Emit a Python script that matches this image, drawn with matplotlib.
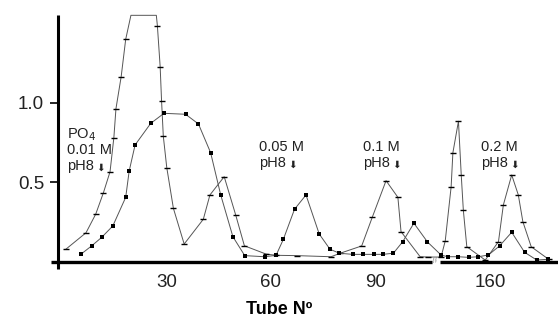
import numpy as np
import matplotlib
matplotlib.use("Agg")
import matplotlib.pyplot as plt
from matplotlib import font_manager

fams = [f.name for f in font_manager.fontManager.ttflist]
main_font = 'Liberation Sans Narrow' if 'Liberation Sans Narrow' in fams else 'Liberation Sans'
plt.rcParams['font.family'] = [main_font, 'DejaVu Sans']

# ---- data (tube number, absorbance) ----
tubes_a = [1.2, 6.9, 9.7, 11.9, 13.8, 14.9, 15.5, 17.0, 18.3, 19.8, 27.1, 27.4, 28.2, 28.6,
           29.1, 30.1, 32.0, 35.1, 40.6, 42.5, 46.6, 49.9, 52.4, 58.6, 61.5, 67.4, 77.3,
           79.9, 86.1, 89.2, 93.1, 96.5, 97.4, 102.9, 105.2,
           145.9, 147.1, 148.8, 149.3, 150.9, 151.7, 152.3, 153.3, 158.6, 162.4, 163.8,
           166.2, 168.1, 169.4, 171.8, 176.8]
values_a = [0.079, 0.181, 0.299, 0.433, 0.565, 0.780, 0.962, 1.164, 1.399, 1.55, 1.55, 1.485,
            1.227, 1.013, 0.790, 0.591, 0.335, 0.110, 0.266, 0.419, 0.534, 0.293, 0.099,
            0.047, 0.039, 0.037, 0.030, 0.052, 0.098, 0.282, 0.509, 0.404, 0.188, 0.030, 0.028,
            0.028, 0.129, 0.471, 0.685, 0.883, 0.545, 0.324, 0.093, 0.009, 0.125, 0.356,
            0.545, 0.419, 0.251, 0.093, 0.014]
offscale_a = [9, 10]  # plateau points (off scale, no marker)

tubes_b = [5.5, 8.5, 11.4, 14.6, 18.3, 19.3, 21.0, 25.5, 29.3, 35.5, 39.2, 42.7, 45.6, 49.1,
           52.5, 58.3, 61.5, 63.6, 66.8, 70.1, 73.9, 77.0, 79.7, 83.5, 86.4, 89.5, 92.2,
           95.2, 97.9, 101.1, 105.0,
           145.9, 147.8, 150.9, 153.8, 156.6, 159.5, 162.7, 166.2, 169.9, 173.4, 176.6]
values_b = [0.047, 0.098, 0.152, 0.224, 0.404, 0.570, 0.734, 0.870, 0.933, 0.927, 0.866,
            0.685, 0.419, 0.156, 0.037, 0.030, 0.039, 0.140, 0.329, 0.419, 0.173, 0.077,
            0.052, 0.045, 0.045, 0.045, 0.045, 0.052, 0.125, 0.241, 0.123,
            0.041, 0.030, 0.030, 0.026, 0.030, 0.041, 0.098, 0.184, 0.058, 0.009, 0.014]

x_ticks = [30, 60, 90, 160]
y_ticks = [0.5, 1.0]
y_tick_labels = ['0.5', '1.0']

# annotations: (tube, value, text)
notes = [(1.5, 0.80, 'PO$_4$'),
         (1.5, 0.70, '0.01 M'),
         (1.5, 0.60, 'pH8'),
         (56.5, 0.72, '0.05 M'),
         (56.5, 0.62, 'pH8'),
         (86.5, 0.72, '0.1 M'),
         (86.5, 0.62, 'pH8'),
         (157.5, 0.72, '0.2 M'),
         (157.5, 0.62, 'pH8')]

# ---- broken x scale ----
B1, B2, OFF = 106.3, 145.6, 37.0
def fwd(t):
    t = np.asarray(t, dtype=float)
    mid = B1 + (t - B1) * ((B2 - OFF - B1) / (B2 - B1))
    return np.where(t <= B1, t, np.where(t >= B2, t - OFF, mid))
def inv(s):
    s = np.asarray(s, dtype=float)
    mid = B1 + (s - B1) * ((B2 - B1) / (B2 - OFF - B1))
    return np.where(s <= B1, s, np.where(s >= B2 - OFF, s + OFF, mid))

fig = plt.figure(figsize=(5.58, 3.33), dpi=100)
ax = fig.add_axes([58/558, 1 - 261.5/333, 500/558, (261.5 - 15)/333])
ax.set_xscale('function', functions=(fwd, inv))
ax.set_xlim(-1.15, 179.5)
ax.set_ylim(0, 1.552)

lc = '#555555'
mk_a = [i for i in range(len(tubes_a)) if i not in offscale_a]
ax.plot(tubes_a, values_a, color=lc, lw=0.7, marker='_', ms=5, mew=1.0,
        mec='black', markevery=mk_a, clip_on=False, zorder=3)
ax.plot(tubes_b, values_b, color=lc, lw=0.7, marker='s', ms=2.6, mew=0,
        mfc='black', clip_on=False, zorder=3)

for sp in ax.spines.values():
    sp.set_visible(False)

ax.set_xticks(x_ticks)
ax.set_xticklabels([str(v) for v in x_ticks], fontsize=13.5, color='#222222')
ax.tick_params(axis='x', length=0, pad=9)
ax.set_yticks(y_ticks)
ax.set_yticklabels(y_tick_labels, fontsize=13.5, color='#222222')
ax.tick_params(axis='y', length=6, width=1.2, direction='out', pad=4)
ax.minorticks_off()

# axis lines (decoration, in axes fraction)
T = ax.transAxes
ax.plot([0, 0], [-0.03, 1.0], transform=T, color='black', lw=2.2, clip_on=False,
        solid_capstyle='butt')
ax.plot([-7/500, (432-58)/500], [0, 0], transform=T, color='black', lw=2.4,
        clip_on=False, solid_capstyle='butt')
ax.plot([(440-58)/500, 1.0], [0, 0], transform=T, color='black', lw=2.4,
        clip_on=False, solid_capstyle='butt')
ax.text((435.5-58)/500, 0.0, '//', transform=T, fontsize=6, color='#777777',
        ha='center', va='center', rotation=10)

for t, v, s in notes:
    if s == 'pH8':
        ax.text(t, v, 'pH8', fontsize=10.5, color='#222222', ha='left', va='center')
        ax.annotate('\u2b07', xy=(t, v), xytext=(21, -1), textcoords='offset points',
                    fontsize=7.5, color='#222222', ha='left', va='center',
                    family=['DejaVu Sans'])
    else:
        ax.text(t, v, s, fontsize=10.5, color='#222222', ha='left', va='center')

ax.set_xlabel('Tube N\u00ba', fontsize=13, fontweight='bold', labelpad=7)
ax.xaxis.label.set_x((279 - 58) / 500)

fig.savefig('out.png', dpi=100)
